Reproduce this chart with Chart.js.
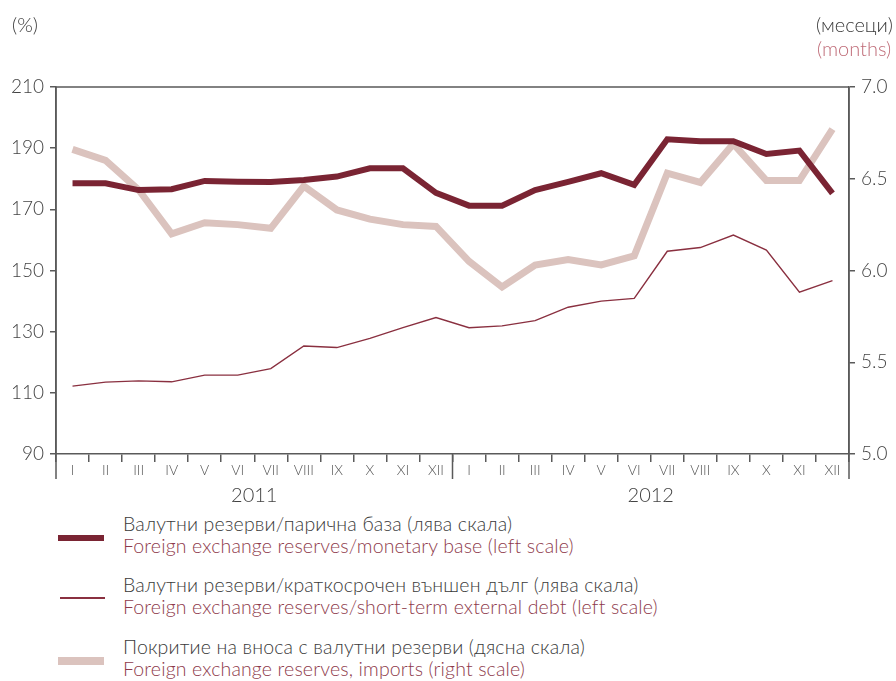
<!DOCTYPE html>
<html>
<head>
<meta charset="utf-8">
<script src="https://cdn.jsdelivr.net/npm/chart.js@4/dist/chart.umd.min.js"></script>
<style>
  html, body { margin: 0; padding: 0; background: #fff; }
  body { width: 896px; height: 681px; position: relative; overflow: hidden;
         font-family: "Lato", "Open Sans", sans-serif; font-weight: 300; }
  #wrap { position: absolute; left: 0; top: 0; width: 896px; height: 510px; }
  .t { position: absolute; white-space: nowrap; }
  .lg { font-size: 19.5px; letter-spacing: 0.15px; }
  .bg { color: #3a3a3a; }
  .en { color: #8e3a4b; }
  .sw { position: absolute; }
</style>
</head>
<body>
<div id="wrap"><canvas id="c" width="896" height="510"></canvas></div>

<div class="t bg" style="left:12px;top:12px;font-size:20px;">(%)</div>
<div class="t bg" style="left:816px;top:12px;font-size:20px;">(месеци)</div>
<div class="t" style="left:817px;top:36px;font-size:20px;color:#bf6b77;">(months)</div>

<div class="sw" style="left:58px;top:535px;width:46px;height:6px;background:#7a2433;"></div>
<div class="t lg bg" style="left:123px;top:512px;">Валутни резерви/парична база (лява скала)</div>
<div class="t lg en" style="left:123px;top:534px;">Foreign exchange reserves/monetary base (left scale)</div>

<div class="sw" style="left:60px;top:597px;width:45px;height:1.5px;background:#8a3040;"></div>
<div class="t lg bg" style="left:123px;top:573px;">Валутни резерви/краткосрочен външен дълг (лява скала)</div>
<div class="t lg en" style="left:123px;top:595px;">Foreign exchange reserves/short-term external debt (left scale)</div>

<div class="sw" style="left:58px;top:657px;width:46px;height:8px;background:#dbc3be;"></div>
<div class="t lg bg" style="left:123px;top:635px;">Покритие на вноса с валутни резерви (дясна скала)</div>
<div class="t lg en" style="left:123px;top:657px;">Foreign exchange reserves, imports (right scale)</div>

<script>
// Month labels (Roman numerals) for 2011 and 2012
const months = ['I','II','III','IV','V','VI','VII','VIII','IX','X','XI','XII'];
const years = ['2011', '2012'];
const labels = months.concat(months);

// Foreign exchange reserves / monetary base (%), left scale
const monetaryBase = [178.5, 178.5, 176.3, 176.6, 179.3, 179.0, 178.9, 179.6, 180.7, 183.4, 183.4, 175.4,
                      171.2, 171.2, 176.3, 179.0, 181.8, 178.0, 192.9, 192.3, 192.3, 188.1, 189.2, 175.2];

// Foreign exchange reserves / short-term external debt (%), left scale
const shortTermDebt = [112.2, 113.5, 113.9, 113.6, 115.8, 115.8, 117.9, 125.3, 124.8, 127.8, 131.3, 134.6,
                       131.3, 131.9, 133.6, 138.0, 140.0, 140.9, 156.3, 157.5, 161.6, 156.7, 142.9, 146.7];

// Import coverage with foreign exchange reserves (months), right scale
const importCover = [6.66, 6.60, 6.44, 6.20, 6.26, 6.25, 6.23, 6.46, 6.33, 6.28, 6.25, 6.24,
                     6.05, 5.91, 6.03, 6.06, 6.03, 6.08, 6.53, 6.48, 6.69, 6.49, 6.49, 6.77];

const leftTicks = [90, 110, 130, 150, 170, 190, 210];
const rightTicks = [5.0, 5.5, 6.0, 6.5, 7.0];

const AXIS = '#5a5a5a';
const TXT = '#444';

// Frame: top border, extended vertical axes and the year divider, plus year captions
const framePlugin = {
  id: 'frame',
  afterDraw(chart) {
    const { ctx, chartArea: a, scales } = chart;
    const x = scales.x;
    const ext = 25;
    ctx.save();
    ctx.strokeStyle = AXIS;
    ctx.lineWidth = 1.5;
    ctx.beginPath();
    ctx.moveTo(a.left, a.top); ctx.lineTo(a.right, a.top);
    ctx.moveTo(a.left, a.top); ctx.lineTo(a.left, a.bottom + ext);
    ctx.moveTo(a.right, a.top); ctx.lineTo(a.right, a.bottom + ext);
    const mid = (x.getPixelForValue(11) + x.getPixelForValue(12)) / 2;
    ctx.moveTo(mid, a.bottom); ctx.lineTo(mid, a.bottom + ext);
    ctx.stroke();
    ctx.fillStyle = TXT;
    ctx.font = '300 20px Lato, "Open Sans", sans-serif';
    ctx.textAlign = 'center';
    ctx.textBaseline = 'middle';
    years.forEach((y, i) => {
      const cx = (x.getPixelForValue(i * 12) + x.getPixelForValue(i * 12 + 11)) / 2;
      ctx.fillText(y, cx, a.bottom + 42);
    });
    ctx.restore();
  }
};

new Chart(document.getElementById('c'), {
  type: 'line',
  data: {
    labels: labels,
    datasets: [
      {
        label: 'Foreign exchange reserves/monetary base (left scale)',
        data: monetaryBase, yAxisID: 'y', order: 0,
        borderColor: '#7a2433', borderWidth: 6, pointRadius: 0, tension: 0,
        borderJoinStyle: 'miter', borderCapStyle: 'butt'
      },
      {
        label: 'Foreign exchange reserves/short-term external debt (left scale)',
        data: shortTermDebt, yAxisID: 'y', order: 1,
        borderColor: '#8a3040', borderWidth: 1.4, pointRadius: 0, tension: 0
      },
      {
        label: 'Foreign exchange reserves, imports (right scale)',
        data: importCover, yAxisID: 'y1', order: 2,
        borderColor: '#dbc3be', borderWidth: 7, pointRadius: 0, tension: 0,
        borderJoinStyle: 'miter', borderCapStyle: 'butt'
      }
    ]
  },
  options: {
    responsive: false,
    animation: false,
    events: [],
    layout: { padding: { top: 87, left: 0, right: 0, bottom: 0 } },
    plugins: { legend: { display: false }, tooltip: { enabled: false } },
    scales: {
      x: {
        offset: true,
        grid: { offset: true, drawOnChartArea: false, drawTicks: true, tickLength: 8, color: AXIS, lineWidth: 1.5 },
        border: { color: AXIS, width: 1.5 },
        ticks: { color: '#555', font: { family: 'Lato', size: 14, weight: '300' }, padding: 0, maxRotation: 0, autoSkip: false },
        afterFit(s) { s.height = 56; }
      },
      y: {
        position: 'left', min: 90, max: 210,
        afterBuildTicks(s) { s.ticks = leftTicks.map(v => ({ value: v })); },
        grid: { drawOnChartArea: false, tickLength: 6, color: AXIS, lineWidth: 1.5 },
        border: { color: AXIS, width: 1.5 },
        ticks: { color: TXT, font: { family: 'Lato', size: 19, weight: '300' }, padding: 6 },
        afterFit(s) { s.width = 56; }
      },
      y1: {
        position: 'right', min: 5, max: 7,
        afterBuildTicks(s) { s.ticks = rightTicks.map(v => ({ value: v })); },
        grid: { drawOnChartArea: false, tickLength: 6, color: AXIS, lineWidth: 1.5 },
        border: { color: AXIS, width: 1.5 },
        ticks: { color: TXT, font: { family: 'Lato', size: 19, weight: '300' }, padding: 6,
                 callback: v => Number(v).toFixed(1) },
        afterFit(s) { s.width = 47; }
      }
    }
  },
  plugins: [framePlugin]
});
</script>
</body>
</html>
